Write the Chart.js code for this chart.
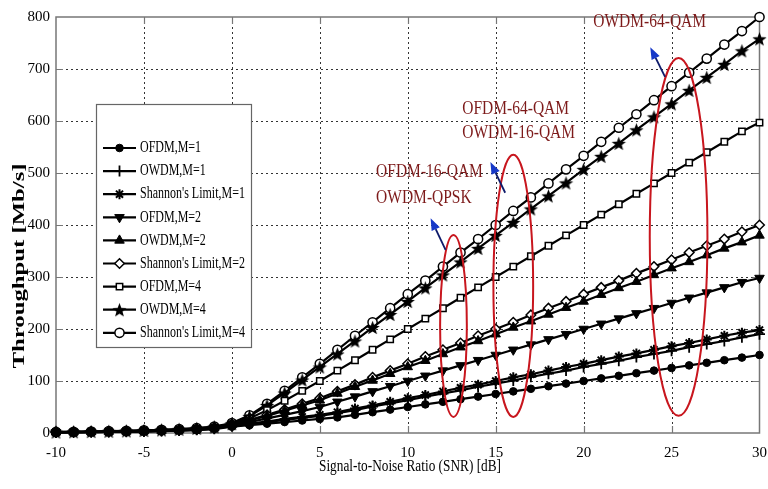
<!DOCTYPE html>
<html>
<head>
<meta charset="utf-8">
<script src="https://cdn.jsdelivr.net/npm/chart.js@4.4.1/dist/chart.umd.min.js"></script>
<style>
  html, body { margin: 0; padding: 0; background: #fff; }
  #wrap { width: 768px; height: 489px; }
</style>
</head>
<body>
<div id="wrap"><canvas id="chart" width="768" height="489"></canvas></div>
<script>
// ── Data ───────────────────────────────────────────────────────
const snr = [-10, -9, -8, -7, -6, -5, -4, -3, -2, -1, 0, 1, 2, 3, 4, 5, 6, 7, 8, 9, 10,
  11, 12, 13, 14, 15, 16, 17, 18, 19, 20, 21, 22, 23, 24, 25, 26, 27, 28, 29, 30];
const xTicks = [-10, -5, 0, 5, 10, 15, 20, 25, 30];
const yTicks = [0, 100, 200, 300, 400, 500, 600, 700, 800];

const ofdmM1 = [1.1, 1.3, 1.6, 1.9, 2.3, 2.8, 3.4, 4.3, 5.5, 7.6,
  12, 15, 18, 21, 24, 27, 30, 35, 40, 45, 50, 55, 60, 65, 70, 75, 80, 85, 90, 95,
  100, 105, 110, 115, 120, 125, 130, 135, 140, 145, 150];
const owdmM1 = [1.2, 1.4, 1.7, 2.1, 2.6, 3.1, 3.8, 4.8, 6.1, 8.4,
  13, 17, 21, 25, 29, 33, 38, 44, 51, 57, 63, 70, 76, 82, 89, 95, 101, 108, 114, 120,
  127, 133, 139, 146, 152, 158, 165, 171, 177, 184, 190];
const shannonM1 = [1.3, 1.5, 1.8, 2.2, 2.7, 3.3, 4.0, 5.0, 6.4, 8.8,
  14, 18, 22, 27, 31, 35, 40, 47, 53, 60, 67, 73, 80, 87, 93, 100, 107, 113, 120, 127,
  133, 140, 147, 153, 160, 167, 173, 180, 187, 193, 198];
const ofdmM2 = [1.4, 1.7, 2.0, 2.5, 3.0, 3.6, 4.4, 5.5, 7.0, 9.4,
  15, 21, 28, 35, 42, 50, 60, 70, 80, 90, 100, 110, 120, 130, 140, 150, 160, 170, 180, 190,
  200, 210, 220, 230, 240, 250, 260, 270, 280, 290, 298];
const owdmM2 = [1.5, 1.8, 2.2, 2.7, 3.2, 3.9, 4.8, 5.9, 7.5, 10.0,
  16, 24, 33, 43, 53, 63, 76, 89, 101, 114, 127, 139, 152, 165, 177, 190, 203, 215, 228, 241,
  253, 266, 279, 291, 304, 317, 329, 342, 355, 367, 380];
const shannonM2 = [1.6, 1.9, 2.3, 2.8, 3.4, 4.1, 5.0, 6.2, 7.8, 10.5,
  17, 25, 35, 45, 56, 67, 80, 93, 107, 120, 133, 147, 160, 173, 187, 200, 213, 227, 240, 253,
  267, 280, 293, 307, 320, 333, 347, 360, 373, 387, 400];
const ofdmM4 = [1.7, 2.0, 2.4, 2.9, 3.5, 4.3, 5.2, 6.4, 8.0, 10.8,
  17, 28, 44, 62, 81, 100, 120, 140, 160, 180, 200, 220, 240, 260, 280, 300, 320, 340, 360, 380,
  400, 420, 440, 460, 480, 500, 520, 540, 560, 580, 597];
const owdmM4 = [1.9, 2.3, 2.8, 3.3, 4.0, 4.9, 5.9, 7.2, 9.0, 12.0,
  18, 32, 53, 77, 102, 127, 152, 177, 203, 228, 253, 279, 304, 329, 355, 380, 405, 431, 456, 481,
  507, 532, 557, 583, 608, 633, 659, 684, 709, 735, 758];
const shannonM4 = [2.0, 2.4, 2.9, 3.5, 4.2, 5.1, 6.2, 7.6, 9.5, 12.5,
  19, 34, 56, 81, 107, 133, 160, 187, 213, 240, 267, 293, 320, 347, 373, 400, 427, 453, 480, 507,
  533, 560, 587, 613, 640, 667, 693, 720, 747, 773, 800];

const seriesLabels = ['OFDM,M=1', 'OWDM,M=1', "Shannon's Limit,M=1",
  'OFDM,M=2', 'OWDM,M=2', "Shannon's Limit,M=2",
  'OFDM,M=4', 'OWDM,M=4', "Shannon's Limit,M=4"];
const seriesValues = [ofdmM1, owdmM1, shannonM1, ofdmM2, owdmM2, shannonM2, ofdmM4, owdmM4, shannonM4];

// annotation texts, in data coordinates (left edge, vertical centre)
const noteLines = [
  { text: 'OFDM-16-QAM', x: 8.2, y: 502 },
  { text: 'OWDM-QPSK', x: 8.2, y: 452 },
  { text: 'OFDM-64-QAM', x: 13.1, y: 623 },
  { text: 'OWDM-16-QAM', x: 13.1, y: 577 },
  { text: 'OWDM-64-QAM', x: 20.55, y: 790 }
];
const noteEllipses = [
  { x: 12.6, y: 206, rx: 0.76, ry: 175 },
  { x: 16.0, y: 283, rx: 1.13, ry: 252 },
  { x: 25.4, y: 377, rx: 1.64, ry: 344 }
];
const noteArrows = [
  { x0: 12.15, y0: 352, x1: 11.3, y1: 413 },
  { x0: 15.54, y0: 462, x1: 14.7, y1: 521 },
  { x0: 24.63, y0: 685, x1: 23.79, y1: 742 }
];

// ── Styles ─────────────────────────────────────────────────────
const SERIF = "'Liberation Serif', 'DejaVu Serif', serif";
const NOTE_RED = '#7d1a1a';
const RING_RED = '#c8161e';

function pentagram(r) {
  const c = document.createElement('canvas');
  const s = Math.ceil(r * 2 + 2);
  c.width = s; c.height = s;
  const g = c.getContext('2d');
  g.translate(s / 2, s / 2 + 0.8);
  g.beginPath();
  for (let i = 0; i < 10; i++) {
    const rad = i % 2 === 0 ? r : r * 0.42;
    const a = -Math.PI / 2 + i * Math.PI / 5;
    g.lineTo(rad * Math.cos(a), rad * Math.sin(a));
  }
  g.closePath();
  g.fillStyle = '#000';
  g.fill();
  return c;
}

const markerStyles = [
  { pointStyle: 'circle', radius: 3.8, fill: '#000', bw: 1 },
  { pointStyle: 'cross', radius: 5.5, fill: '#000', bw: 1.8 },
  { pointStyle: 'star', radius: 5, fill: '#000', bw: 2 },
  { pointStyle: 'triangle', radius: 5.5, fill: '#000', bw: 1 },
  { pointStyle: 'triangle', radius: 5.5, fill: '#000', bw: 1 },
  { pointStyle: 'rectRot', radius: 4.8, fill: '#fff', bw: 1.5 },
  { pointStyle: 'rect', radius: 4.5, fill: '#fff', bw: 1.5 },
  { pointStyle: pentagram(7.5), radius: 7.5, fill: '#000', bw: 1 },
  { pointStyle: 'circle', radius: 4.6, fill: '#fff', bw: 1.5 }
];
const markerRotation = [0, 0, 0, 180, 0, 0, 0, 0, 0];

const datasets = seriesValues.map((vals, i) => {
  const m = markerStyles[i];
  return {
    label: seriesLabels[i],
    data: vals.map((v, k) => ({ x: snr[k], y: v })),
    borderColor: '#000',
    borderWidth: 2.2,
    backgroundColor: m.fill,
    pointStyle: m.pointStyle,
    pointRadius: m.radius,
    pointRotation: markerRotation[i],
    pointBackgroundColor: m.fill,
    pointBorderColor: '#000',
    pointBorderWidth: m.bw,
    tension: 0,
    clip: false
  };
});

function drawText(ctx, str, x, y, o) {
  ctx.save();
  ctx.translate(x, y);
  if (o.rotate) ctx.rotate(o.rotate);
  ctx.font = o.font;
  let sx = o.sx || 1;
  if (o.fitWidth) sx = o.fitWidth / ctx.measureText(str).width;
  ctx.scale(sx, o.sy || 1);
  ctx.fillStyle = o.color || '#000';
  ctx.textAlign = o.align || 'left';
  ctx.textBaseline = 'middle';
  ctx.fillText(str, 0, 0);
  ctx.restore();
}

// dotted grid, inward ticks, the axes box and the annotations
const framePlugin = {
  id: 'frame',
  beforeDatasetsDraw(chart) {
    const { ctx, chartArea: a, scales: { x, y } } = chart;
    ctx.save();
    ctx.strokeStyle = '#333';
    ctx.lineWidth = 1;
    ctx.setLineDash([2, 3]);
    xTicks.slice(1, -1).forEach(v => {
      const px = Math.round(x.getPixelForValue(v)) + 0.5;
      ctx.beginPath(); ctx.moveTo(px, a.top); ctx.lineTo(px, a.bottom); ctx.stroke();
    });
    yTicks.slice(1, -1).forEach(v => {
      const py = Math.round(y.getPixelForValue(v)) + 0.5;
      ctx.beginPath(); ctx.moveTo(a.left, py); ctx.lineTo(a.right, py); ctx.stroke();
    });
    ctx.setLineDash([]);
    ctx.strokeStyle = '#777';
    ctx.lineWidth = 1.2;
    const tl = 7;
    xTicks.slice(1, -1).forEach(v => {
      const px = Math.round(x.getPixelForValue(v)) + 0.5;
      ctx.beginPath();
      ctx.moveTo(px, a.bottom); ctx.lineTo(px, a.bottom - tl);
      ctx.moveTo(px, a.top); ctx.lineTo(px, a.top + tl);
      ctx.stroke();
    });
    yTicks.slice(1, -1).forEach(v => {
      const py = Math.round(y.getPixelForValue(v)) + 0.5;
      ctx.beginPath();
      ctx.moveTo(a.left, py); ctx.lineTo(a.left + tl, py);
      ctx.moveTo(a.right, py); ctx.lineTo(a.right - tl, py);
      ctx.stroke();
    });
    ctx.lineWidth = 1.5;
    ctx.strokeRect(a.left, a.top, a.right - a.left, a.bottom - a.top);
    ctx.restore();
  },
  afterDatasetsDraw(chart) {
    const { ctx, scales: { x, y } } = chart;
    ctx.save();

    // red ellipses
    ctx.strokeStyle = RING_RED;
    ctx.lineWidth = 2;
    noteEllipses.forEach(e => {
      const cx = x.getPixelForValue(e.x), cy = y.getPixelForValue(e.y);
      const rx = Math.abs(x.getPixelForValue(e.x + e.rx) - cx);
      const ry = Math.abs(y.getPixelForValue(e.y + e.ry) - cy);
      ctx.beginPath(); ctx.ellipse(cx, cy, rx, ry, 0, 0, Math.PI * 2); ctx.stroke();
    });

    // blue arrows
    noteArrows.forEach(ar => {
      const x0 = x.getPixelForValue(ar.x0), y0 = y.getPixelForValue(ar.y0);
      const x1 = x.getPixelForValue(ar.x1), y1 = y.getPixelForValue(ar.y1);
      const ang = Math.atan2(y1 - y0, x1 - x0);
      const hl = 12, hw = 4.5;
      const bx = x1 - hl * Math.cos(ang), by = y1 - hl * Math.sin(ang);
      ctx.strokeStyle = '#0d1a6a';
      ctx.lineWidth = 1.8;
      ctx.beginPath(); ctx.moveTo(x0, y0); ctx.lineTo(bx, by); ctx.stroke();
      ctx.fillStyle = '#1638c8';
      ctx.beginPath();
      ctx.moveTo(x1, y1);
      ctx.lineTo(bx + hw * Math.sin(ang), by - hw * Math.cos(ang));
      ctx.lineTo(bx - hw * Math.sin(ang), by + hw * Math.cos(ang));
      ctx.closePath(); ctx.fill();
    });

    // annotation text
    noteLines.forEach(n => {
      drawText(ctx, n.text, x.getPixelForValue(n.x), y.getPixelForValue(n.y),
        { font: `15.5px ${SERIF}`, sy: 1.25, color: NOTE_RED });
    });

    // legend box
    const L = { left: 96, top: 104, right: 251, bottom: 347, first: 148, step: 23.1 };
    ctx.fillStyle = '#fff';
    ctx.fillRect(L.left, L.top, L.right - L.left, L.bottom - L.top);
    ctx.strokeStyle = '#666';
    ctx.lineWidth = 1.2;
    ctx.strokeRect(L.left + 0.5, L.top + 0.5, L.right - L.left, L.bottom - L.top);
    chart.data.datasets.forEach((ds, i) => {
      const ly = L.first + i * L.step;
      ctx.strokeStyle = '#000';
      ctx.lineWidth = 2.2;
      ctx.beginPath(); ctx.moveTo(103, ly); ctx.lineTo(136, ly); ctx.stroke();
      if (Chart.helpers && Chart.helpers.drawPoint) {
        ctx.fillStyle = ds.pointBackgroundColor;
        ctx.strokeStyle = '#000';
        ctx.lineWidth = ds.pointBorderWidth;
        Chart.helpers.drawPoint(ctx, {
          pointStyle: ds.pointStyle, rotation: ds.pointRotation,
          radius: ds.pointRadius, borderWidth: ds.pointBorderWidth
        }, 119.5, ly);
      }
      drawText(ctx, ds.label, 140, ly, { font: `12px ${SERIF}`, sy: 1.35 });
    });

    // axis titles
    drawText(ctx, 'Throughput [Mb/s]', 20, 266,
      { font: `bold 16px ${SERIF}`, rotate: -Math.PI / 2, fitWidth: 205, align: 'center' });
    drawText(ctx, 'Signal-to-Noise Ratio (SNR) [dB]', 410, 467,
      { font: `13px ${SERIF}`, fitWidth: 182, sy: 1.3, align: 'center' });
    ctx.restore();
  }
};

const ctx = document.getElementById('chart').getContext('2d');
new Chart(ctx, {
  type: 'line',
  data: { datasets },
  options: {
    responsive: false,
    animation: false,
    layout: { padding: { top: 17, right: 4, left: 0, bottom: 0 } },
    plugins: { legend: { display: false }, tooltip: { enabled: false } },
    scales: {
      x: {
        type: 'linear', min: -10, max: 30,
        grid: { display: false, drawTicks: false },
        border: { display: false },
        afterBuildTicks: s => { s.ticks = xTicks.map(v => ({ value: v })); },
        ticks: { color: '#000', font: { family: SERIF, size: 15 }, padding: 11, maxRotation: 0, autoSkip: false },
        afterFit: s => { s.height = 56; s.paddingLeft = 0; s.paddingRight = 0; }
      },
      y: {
        type: 'linear', min: 0, max: 800,
        grid: { display: false, drawTicks: false },
        border: { display: false },
        afterBuildTicks: s => { s.ticks = yTicks.map(v => ({ value: v })); },
        ticks: { color: '#000', font: { family: SERIF, size: 15 }, padding: 6, autoSkip: false },
        afterFit: s => { s.width = 56; s.paddingTop = 0; s.paddingBottom = 0; }
      }
    }
  },
  plugins: [framePlugin]
});
</script>
</body>
</html>
